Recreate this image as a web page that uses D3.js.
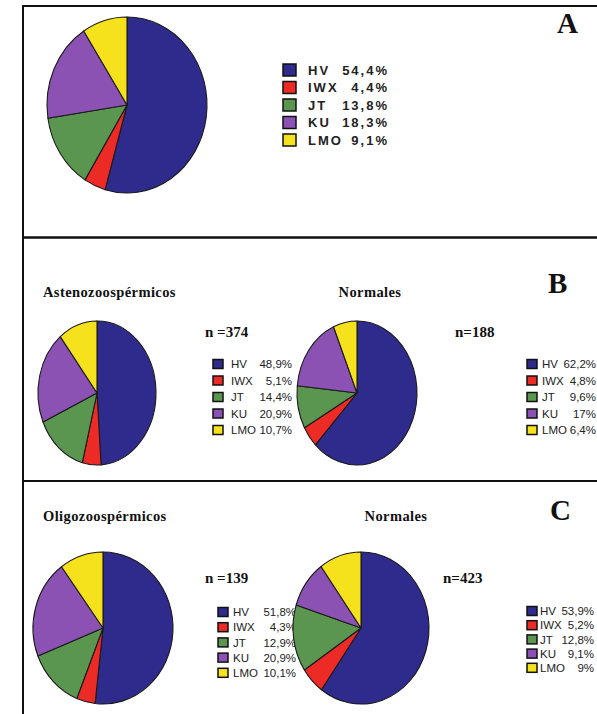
<!DOCTYPE html>
<html>
<head>
<meta charset="utf-8">
<script src="https://cdn.jsdelivr.net/npm/d3@7/dist/d3.min.js"></script>
<style>
  html, body { margin: 0; padding: 0; background: #fff; }
  svg { display: block; }
</style>
</head>
<body>
<svg id="chart" width="597" height="714"></svg>
<script>
// Genotype groups shared by every pie
const categories = ["HV", "IWX", "JT", "KU", "LMO"];
const categoryColors = ["#2f2b8c", "#ec2a26", "#5b9650", "#8b52b3", "#f6e21c"];

// A: whole population
const valuesTotal = [54.4, 4.4, 13.8, 18.3, 9.1];
// B: asthenozoospermic vs normal
const valuesAsteno = [48.9, 5.1, 14.4, 20.9, 10.7];
const valuesNormalesB = [62.2, 4.8, 9.6, 17, 6.4];
// C: oligozoospermic vs normal
const valuesOligo = [51.8, 4.3, 12.9, 20.9, 10.1];
const valuesNormalesC = [53.9, 5.2, 12.8, 9.1, 9];

const panelLetters = ["A", "B", "C"];
const groupTitles = ["Astenozoospérmicos", "Normales", "Oligozoospérmicos", "Normales"];
const sampleSizes = ["n =374", "n=188", "n =139", "n=423"];

const svg = d3.select("#chart");
const W = 597, H = 714;
const serif = "'Liberation Serif', 'Times New Roman', serif";
const sans = "'Liberation Sans', Arial, sans-serif";

const color = d3.scaleOrdinal().domain(categories).range(categoryColors);
const pie = d3.pie().sort(null).value(d => d.value);
const fmt = v => (Number.isInteger(v) ? String(v) : v.toFixed(1).replace(".", ",")) + "%";

// Panel frames
const frame = svg.append("g").attr("fill", "none").attr("stroke", "#111");
frame.append("line").attr("x1", 23).attr("x2", W).attr("y1", 6).attr("y2", 6).attr("stroke-width", 2);
frame.append("line").attr("x1", 23).attr("x2", 23).attr("y1", 5).attr("y2", H).attr("stroke-width", 2);
frame.append("line").attr("x1", 22).attr("x2", W).attr("y1", 237.5).attr("y2", 237.5).attr("stroke-width", 2.6);
frame.append("line").attr("x1", 22).attr("x2", W).attr("y1", 481).attr("y2", 481).attr("stroke-width", 2);

// Panel letters
const letterPos = [[557, 33], [548, 293], [550, 520]];
panelLetters.forEach((t, i) => {
  svg.append("text").attr("x", letterPos[i][0]).attr("y", letterPos[i][1])
    .attr("font-family", serif).attr("font-weight", "bold").attr("font-size", 29)
    .attr("fill", "#111").text(t);
});

// One pie (slightly oval, as printed) plus its legend
function drawPie(values, o) {
  const data = categories.map((c, i) => ({ key: c, value: values[i] }));
  const arc = d3.arc().innerRadius(0).outerRadius(o.ry);
  const g = svg.append("g")
    .attr("transform", `translate(${o.cx},${o.cy}) scale(${o.rx / o.ry},1)`);
  g.selectAll("path").data(pie(data)).join("path")
    .attr("d", arc)
    .attr("fill", d => color(d.data.key))
    .attr("stroke", "#1a1a1a")
    .attr("stroke-width", 1.1)
    .attr("vector-effect", "non-scaling-stroke")
    .attr("stroke-linejoin", "round");

  const L = o.legend;
  const lg = svg.append("g");
  const rows = lg.selectAll("g").data(data).join("g")
    .attr("transform", (d, i) => `translate(0,${L.y + i * L.dy})`);
  rows.append("rect")
    .attr("x", L.sx).attr("y", -L.sh / 2).attr("width", L.sw).attr("height", L.sh)
    .attr("fill", d => color(d.key)).attr("stroke", "#111").attr("stroke-width", 1.5);
  rows.append("text")
    .attr("x", L.tx).attr("y", 0).attr("dy", "0.36em")
    .attr("font-family", sans).attr("font-weight", L.weight).attr("font-size", L.size)
    .attr("letter-spacing", L.spacing).attr("fill", "#222")
    .text(d => d.key);
  rows.append("text")
    .attr("x", L.vx).attr("y", 0).attr("dy", "0.36em").attr("text-anchor", "end")
    .attr("font-family", sans).attr("font-weight", L.weight).attr("font-size", L.size)
    .attr("letter-spacing", L.spacing).attr("fill", "#222")
    .text(d => fmt(d.value));
}

// A
drawPie(valuesTotal, {
  cx: 127, cy: 105, rx: 80, ry: 88,
  legend: { sx: 283, y: 70, dy: 17.5, sw: 13, sh: 12, tx: 308, vx: 389, size: 13, weight: "bold", spacing: 2 }
});

// B
const smallLegend = { sw: 10, sh: 9, size: 11.5, weight: "normal", spacing: 0 };
drawPie(valuesAsteno, {
  cx: 97, cy: 393, rx: 59, ry: 72,
  legend: Object.assign({ sx: 213, y: 364, dy: 16.5, tx: 231, vx: 292 }, smallLegend)
});
drawPie(valuesNormalesB, {
  cx: 357, cy: 393, rx: 60, ry: 72,
  legend: Object.assign({ sx: 527, y: 364, dy: 16.5, tx: 542, vx: 596 }, smallLegend)
});

// C
drawPie(valuesOligo, {
  cx: 103, cy: 628, rx: 70, ry: 76,
  legend: Object.assign({ sx: 218, y: 612, dy: 15.2, tx: 233, vx: 296 }, smallLegend)
});
drawPie(valuesNormalesC, {
  cx: 361, cy: 628, rx: 68, ry: 76,
  legend: Object.assign({ sx: 527, y: 611, dy: 14.2, tx: 540, vx: 594 }, smallLegend)
});

// Group titles and sample sizes
const titlePos = [[43, 297, "start"], [370, 297, "middle"], [43, 521, "start"], [396, 521, "middle"]];
groupTitles.forEach((t, i) => {
  svg.append("text").attr("x", titlePos[i][0]).attr("y", titlePos[i][1])
    .attr("text-anchor", titlePos[i][2])
    .attr("font-family", serif).attr("font-weight", "bold").attr("font-size", 14.5)
    .attr("letter-spacing", 0.4).attr("fill", "#111").text(t);
});
const nPos = [[205, 337], [455, 337], [205, 583], [443, 583]];
sampleSizes.forEach((t, i) => {
  svg.append("text").attr("x", nPos[i][0]).attr("y", nPos[i][1])
    .attr("font-family", serif).attr("font-weight", "bold").attr("font-size", 15)
    .attr("fill", "#111").text(t);
});
</script>
</body>
</html>
